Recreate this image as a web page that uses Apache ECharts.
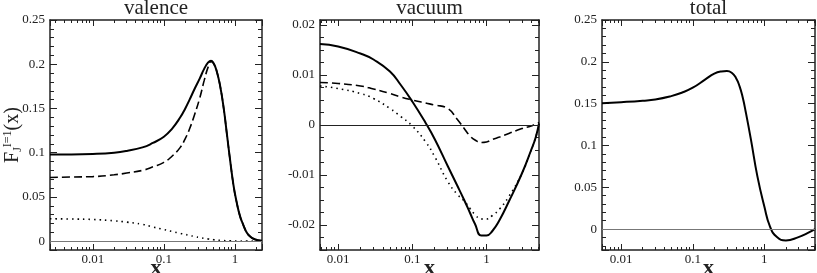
<!DOCTYPE html>
<html>
<head>
<meta charset="utf-8">
<script src="https://cdn.jsdelivr.net/npm/echarts@6/dist/echarts.min.js"></script>
<style>
  html, body { margin: 0; padding: 0; background: #fff; }
  #chart { width: 817px; height: 273px; }
</style>
</head>
<body>
<div id="chart"></div>
<script>
// ---- valence ----
var valX = [0.0025, 0.005, 0.01, 0.02, 0.03, 0.05, 0.07, 0.1, 0.13, 0.17, 0.2, 0.23, 0.27, 0.32, 0.37, 0.42, 0.46,
  0.5, 0.55, 0.62, 0.7, 0.77, 0.85, 0.95, 1.05, 1.18, 1.3, 1.47, 1.65, 1.82, 2.1, 2.4];
var valSolid = [0.098, 0.098, 0.0985, 0.100, 0.102, 0.106, 0.111, 0.118, 0.127, 0.140, 0.150, 0.160, 0.172, 0.184, 0.195, 0.202, 0.204,
  0.201, 0.193, 0.175, 0.148, 0.121, 0.093, 0.064, 0.045, 0.028, 0.019, 0.0095, 0.005, 0.0027, 0.001, 0.0005];
var valDashed = [0.072, 0.0725, 0.073, 0.075, 0.077, 0.080, 0.084, 0.089, 0.096, 0.106, 0.116, 0.127, 0.143, 0.162, 0.182, 0.197, 0.203,
  0.201, 0.193, 0.175, 0.148, 0.121, 0.093, 0.064, 0.045, 0.028, 0.019, 0.0095, 0.005, 0.0027, 0.001, 0.0005];
var valDotted = [0.0253, 0.025, 0.0245, 0.023, 0.0215, 0.019, 0.016, 0.0132, 0.011, 0.0088, 0.0076, 0.0065, 0.0052, 0.004, 0.0031, 0.0025, 0.002,
  0.0016, 0.0012, 0.0009, 0.0006, 0.0004, 0.0003, 0.0002, 0.0001, 0, 0, 0, 0, 0, 0, 0];

// ---- vacuum ----
var vacX = [0.0057, 0.01, 0.02, 0.03, 0.05, 0.07, 0.1, 0.15, 0.2, 0.3, 0.4, 0.5, 0.6, 0.7, 0.85, 1.0, 1.2, 1.5, 2, 3, 4, 4.6, 5.1];
var vacSolid = [0.0162, 0.0157, 0.0143, 0.0131, 0.0107, 0.0080, 0.0047, 0.0005, -0.0028, -0.0082, -0.0120, -0.0150, -0.0176, -0.0198,
  -0.0221, -0.0221, -0.0212, -0.0190, -0.0153, -0.0097, -0.0050, -0.0025, 0.0003];
var vacDashed = [0.0085, 0.0083, 0.0078, 0.0072, 0.0063, 0.0056, 0.0050, 0.0044, 0.0040, 0.0033, 0.0012, -0.0007, -0.0022, -0.0030,
  -0.0035, -0.0034, -0.0029, -0.0024, -0.0017, -0.0007, -0.0002, 0.0002, 0.0005];
var vacDotted = [0.0078, 0.0073, 0.0063, 0.0053, 0.0033, 0.0017, -0.0002, -0.0033, -0.0063, -0.0113, -0.0138, -0.0152, -0.0167, -0.0179,
  -0.0188, -0.0188, -0.0181, -0.0168, -0.0143, -0.0097, -0.0050, -0.0025, 0.0000];

// ---- total ----
var totX = [0.0054, 0.01, 0.02, 0.03, 0.05, 0.07, 0.1, 0.15, 0.2, 0.25, 0.3, 0.35, 0.4, 0.45, 0.5, 0.55, 0.65, 0.8, 1.0, 1.2, 1.5, 2, 3, 4, 5.1];
var totSolid = [0.1504, 0.1517, 0.1535, 0.155, 0.159, 0.163, 0.169, 0.179, 0.186, 0.1885, 0.189, 0.187, 0.181, 0.171, 0.157, 0.140,
  0.107, 0.063, 0.027, 0.003, -0.0096, -0.0136, -0.0096, -0.0048, 0.0000];

var titles = ['valence', 'vacuum', 'total'];
var xRanges = [[0.0025, 2.4], [0.0057, 5.1], [0.0054, 5.1]];
var yRanges = [[-0.01, 0.25], [-0.025, 0.021], [-0.025, 0.25]];
var yMinorSplit = [5, 4, 5];
var yShowMax = [true, false, true];

var FONT = "'Liberation Serif', 'Times New Roman', serif";
var INK = '#222';

function pairs(xs, ys) {
  return xs.map(function (x, i) { return [x, ys[i]]; });
}

function initChart() {
  var gridPos = [
    {left: 50, width: 212},
    {left: 320, width: 219},
    {left: 602, width: 213}
  ];
  var grid = [], xAxis = [], yAxis = [];
  gridPos.forEach(function (g, i) {
    grid.push({left: g.left, width: g.width, top: 20, height: 230, outerBoundsMode: 'none', containLabel: false});

    var tick = {show: true, inside: true, length: 6, lineStyle: {color: INK, width: 1}};
    var minor = {show: true, splitNumber: 9, length: 3, lineStyle: {color: INK, width: 1}};
    var line = {show: true, onZero: false, lineStyle: {color: INK, width: 1.5}};
    // bottom x axis with labels
    xAxis.push({
      type: 'log', logBase: 10, gridIndex: i, position: 'bottom',
      min: xRanges[i][0], max: xRanges[i][1],
      axisLine: line, axisTick: tick, minorTick: minor,
      splitLine: {show: false}, minorSplitLine: {show: false},
      axisLabel: {fontFamily: FONT, fontSize: 13, color: INK, margin: 3, showMinLabel: false, showMaxLabel: false},
      name: 'x', nameLocation: 'middle', nameGap: 7, nameMoveOverlap: false,
      nameTextStyle: {fontFamily: FONT, fontSize: 22, fontWeight: 'bold', color: INK, verticalAlign: 'top', lineHeight: 22}
    });
    // top x axis (frame + ticks + title)
    xAxis.push({
      type: 'log', logBase: 10, gridIndex: i, position: 'top',
      min: xRanges[i][0], max: xRanges[i][1],
      axisLine: line, axisTick: tick, minorTick: minor,
      splitLine: {show: false}, axisLabel: {show: false},
      name: titles[i], nameLocation: 'middle', nameGap: 1, nameMoveOverlap: false,
      nameTextStyle: {fontFamily: FONT, fontSize: 21, color: INK}
    });

    var ytick = {show: true, inside: true, length: 7, lineStyle: {color: INK, width: 1}};
    var yminor = {show: true, splitNumber: yMinorSplit[i], length: 4, lineStyle: {color: INK, width: 1}};
    var left = {
      type: 'value', gridIndex: i, position: 'left',
      min: yRanges[i][0], max: yRanges[i][1], splitNumber: 5,
      axisLine: line, axisTick: ytick, minorTick: yminor,
      splitLine: {show: false},
      axisLabel: {fontFamily: FONT, fontSize: 13, color: INK, margin: 5, showMinLabel: false, showMaxLabel: yShowMax[i]}
    };
    if (i === 0) {
      left.name = '{f|F}{b|J}{t|I=1}{f|(x)}';
      left.nameLocation = 'middle';
      left.nameGap = 26;
      left.nameMoveOverlap = false;
      left.nameTextStyle = {
        fontFamily: FONT, color: INK,
        rich: {
          f: {fontFamily: FONT, fontSize: 20, lineHeight: 22, color: INK},
          b: {fontFamily: FONT, fontSize: 12, lineHeight: 11, verticalAlign: 'bottom', color: INK},
          t: {fontFamily: FONT, fontSize: 12, lineHeight: 11, verticalAlign: 'top', color: INK}
        }
      };
    }
    yAxis.push(left);
    yAxis.push({
      type: 'value', gridIndex: i, position: 'right',
      min: yRanges[i][0], max: yRanges[i][1], splitNumber: 5,
      axisLine: line, axisTick: ytick, minorTick: yminor,
      splitLine: {show: false}, axisLabel: {show: false}
    });
  });

  function curve(i, data, type, width, zero) {
    var s = {
      type: 'line', xAxisIndex: i * 2, yAxisIndex: i * 2,
      data: data, showSymbol: false, symbol: 'none',
      smooth: 0.5,
      lineStyle: {color: '#000', width: width, type: type}
    };
    if (zero) {
      s.markLine = {
        silent: true, symbol: 'none', label: {show: false},
        lineStyle: {color: zero, width: 1.2, type: 'solid'},
        data: [{yAxis: 0}]
      };
    }
    return s;
  }

  var series = [
    curve(0, pairs(valX, valDotted), [1.5, 4], 1.6, '#777'),
    curve(0, pairs(valX, valDashed), [8, 4], 1.6),
    curve(0, pairs(valX, valSolid), 'solid', 2),
    curve(1, pairs(vacX, vacDotted), [1.5, 4], 1.6, '#222'),
    curve(1, pairs(vacX, vacDashed), [8, 4], 1.6),
    curve(1, pairs(vacX, vacSolid), 'solid', 2),
    curve(2, pairs(totX, totSolid), 'solid', 2, '#777')
  ];

  var option = {
    animation: false,
    backgroundColor: '#fff',
    grid: grid,
    xAxis: xAxis,
    yAxis: yAxis,
    series: series
  };
  var myChart = echarts.init(document.getElementById('chart'), null, {renderer: 'canvas'});
  myChart.setOption(option);
}

initChart();
</script>
</body>
</html>
